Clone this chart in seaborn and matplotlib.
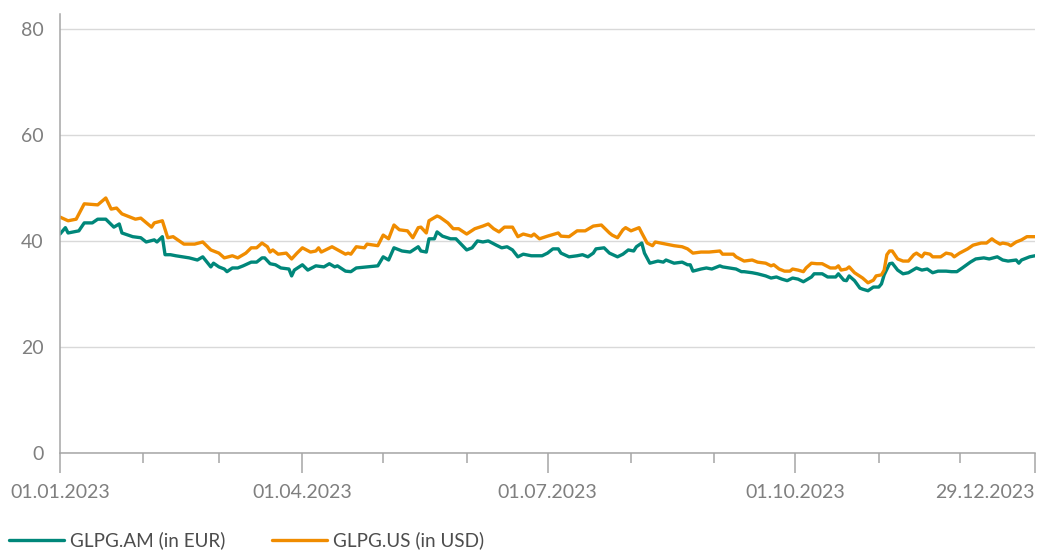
import pandas as pd
import matplotlib
matplotlib.use("Agg")
import matplotlib.pyplot as plt
import matplotlib.dates as mdates
import seaborn as sns

# share prices; days counted from 01.01.2023
usd_days = [0, 3, 6, 9, 14, 17, 19, 21, 23, 28, 30, 34, 35, 38, 40, 42, 46, 50, 53, 56,
            59, 61, 64, 66, 69, 71, 73, 75, 77, 78, 79, 81, 84, 86, 88, 90, 93, 95, 96, 97,
            101, 106, 107, 108, 110, 113, 114, 118, 120, 122, 124, 126, 129, 131, 133, 134, 136, 137, 140, 141,
            144, 146, 148, 151, 154, 157, 159, 161, 163, 165, 168, 170, 172, 175, 176, 178, 181, 185, 186, 189,
            192, 195, 198, 201, 204, 205, 207, 209, 210, 212, 215, 216, 218, 220, 221, 225, 228, 231, 233, 235,
            238, 241, 245, 246, 250, 251, 254, 257, 259, 262, 264, 265, 267, 269, 271, 272, 274, 276, 277, 279,
            281, 283, 286, 288, 289, 290, 292, 293, 295, 298, 300, 302, 303, 305, 306, 307, 308, 309, 311, 313,
            315, 317, 318, 320, 321, 323, 324, 327, 329, 331, 332, 334, 337, 339, 342, 344, 346, 347, 349, 350,
            352, 353, 355, 357, 359, 362]
usd_vals = [44.5, 43.8, 44.1, 47.0, 46.8, 48.1, 46.0, 46.2, 45.1, 44.1, 44.3, 42.6, 43.4, 43.8, 40.6, 40.8, 39.4, 39.4, 39.8, 38.3,
            37.7, 36.8, 37.2, 36.8, 37.7, 38.7, 38.7, 39.6, 38.9, 37.9, 38.3, 37.5, 37.7, 36.6, 37.7, 38.7, 37.9, 38.1, 38.7, 37.9,
            38.9, 37.5, 37.7, 37.5, 38.9, 38.7, 39.4, 39.1, 41.1, 40.4, 43.0, 42.1, 41.9, 40.6, 42.5, 42.6, 41.5, 43.8, 44.7, 44.5,
            43.4, 42.3, 42.3, 41.3, 42.3, 42.8, 43.2, 42.3, 41.7, 42.6, 42.6, 40.8, 41.3, 40.9, 41.3, 40.4, 40.9, 41.5, 40.9, 40.8,
            41.9, 41.9, 42.8, 43.0, 41.5, 41.1, 40.6, 42.1, 42.5, 41.9, 42.5, 41.5, 39.6, 39.1, 39.8, 39.4, 39.1, 38.9, 38.5, 37.7,
            37.9, 37.9, 38.1, 37.5, 37.5, 37.0, 36.2, 36.4, 36.0, 35.8, 35.3, 35.5, 34.7, 34.3, 34.3, 34.7, 34.5, 34.2, 34.9, 35.8,
            35.7, 35.7, 34.9, 34.9, 35.3, 34.5, 34.7, 35.1, 34.0, 33.0, 32.1, 32.6, 33.4, 33.6, 34.5, 37.4, 38.1, 38.1, 36.6, 36.2,
            36.2, 37.4, 37.7, 37.0, 37.7, 37.5, 37.0, 37.0, 37.7, 37.5, 37.0, 37.7, 38.5, 39.2, 39.6, 39.6, 40.4, 40.0, 39.4, 39.6,
            39.4, 39.1, 39.8, 40.2, 40.8, 40.8]

eur_days = [0, 2, 3, 7, 9, 12, 14, 17, 20, 22, 23, 27, 30, 32, 35, 36, 38, 39, 41, 43,
            48, 51, 53, 56, 57, 59, 61, 62, 64, 66, 68, 71, 73, 75, 76, 78, 80, 82, 85, 86,
            87, 90, 92, 95, 98, 100, 102, 103, 106, 108, 110, 114, 118, 120, 122, 124, 127, 130, 133, 134,
            136, 137, 139, 140, 142, 145, 147, 151, 153, 155, 157, 159, 162, 164, 166, 168, 170, 172, 175, 179,
            181, 183, 185, 186, 189, 192, 194, 196, 198, 199, 202, 204, 207, 209, 211, 213, 214, 216, 217, 219,
            222, 224, 225, 228, 231, 233, 234, 235, 238, 240, 242, 244, 245, 246, 251, 253, 254, 257, 259, 262,
            264, 266, 268, 270, 272, 274, 276, 279, 280, 283, 285, 288, 289, 291, 292, 293, 295, 297, 298, 300,
            302, 304, 305, 306, 308, 309, 311, 313, 315, 318, 320, 322, 324, 326, 329, 331, 333, 335, 338, 340,
            343, 345, 348, 350, 352, 355, 356, 357, 358, 360, 362]
eur_vals = [41.3, 42.5, 41.5, 41.9, 43.4, 43.4, 44.1, 44.1, 42.6, 43.2, 41.5, 40.8, 40.6, 39.8, 40.2, 39.8, 40.8, 37.4, 37.4, 37.2,
            36.8, 36.4, 37.0, 35.1, 35.8, 35.1, 34.7, 34.2, 34.9, 34.9, 35.3, 36.0, 36.0, 36.8, 36.8, 35.7, 35.5, 34.9, 34.7, 33.4,
            34.5, 35.5, 34.5, 35.3, 35.1, 35.7, 35.1, 35.3, 34.3, 34.2, 34.9, 35.1, 35.3, 37.0, 36.4, 38.7, 38.1, 37.9, 38.9, 38.1,
            37.9, 40.4, 40.4, 41.7, 40.9, 40.4, 40.4, 38.3, 38.7, 40.0, 39.8, 40.0, 39.2, 38.7, 38.9, 38.3, 37.0, 37.5, 37.2, 37.2,
            37.7, 38.5, 38.5, 37.7, 37.0, 37.2, 37.4, 37.0, 37.7, 38.5, 38.7, 37.7, 37.0, 37.5, 38.3, 38.1, 38.9, 39.6, 37.7, 35.8,
            36.2, 36.0, 36.4, 35.8, 36.0, 35.5, 35.5, 34.3, 34.7, 34.9, 34.7, 35.1, 35.3, 35.1, 34.7, 34.2, 34.2, 34.0, 33.8, 33.4,
            33.0, 33.2, 32.8, 32.5, 33.0, 32.8, 32.3, 33.2, 33.8, 33.8, 33.2, 33.2, 33.8, 32.6, 32.5, 33.4, 32.5, 31.1, 30.9, 30.6,
            31.3, 31.3, 31.9, 33.6, 35.7, 35.8, 34.5, 33.8, 34.0, 34.9, 34.5, 34.7, 34.0, 34.3, 34.3, 34.2, 34.2, 34.9, 36.0, 36.6,
            36.8, 36.6, 37.0, 36.4, 36.2, 36.4, 35.8, 36.4, 36.6, 37.0, 37.2]

series_names = ["GLPG.AM (in EUR)", "GLPG.US (in USD)"]
colors = ["#00877a", "#f08c00"]
y_ticks = [0, 20, 40, 60, 80]
major_ticks = ["2023-01-01", "2023-04-01", "2023-07-01", "2023-10-01", "2023-12-29"]

start = pd.Timestamp("2023-01-01")
df = pd.concat([
    pd.DataFrame({"date": start + pd.to_timedelta(eur_days, unit="D"), "price": eur_vals, "series": series_names[0]}),
    pd.DataFrame({"date": start + pd.to_timedelta(usd_days, unit="D"), "price": usd_vals, "series": series_names[1]}),
])

sns.set_theme(style="white")
plt.rcParams["font.family"] = ["Lato", "DejaVu Sans"]

fig = plt.figure(figsize=(10.4, 5.51), dpi=100)
ax = fig.add_axes([60 / 1040, 98 / 551, 975 / 1040, 439 / 551])

sns.lineplot(data=df, x="date", y="price", hue="series", palette=colors,
             linewidth=2.4, ax=ax, legend=False)

ax.set_xlim(pd.Timestamp(major_ticks[0]), pd.Timestamp(major_ticks[-1]))
ax.set_ylim(0, 82.8)
ax.set_yticks(y_ticks)
ax.yaxis.grid(True, color="#d9d9d9", linewidth=1)
ax.set_xlabel("")
ax.set_ylabel("")

ax.set_xticks([pd.Timestamp(t) for t in major_ticks])
ax.set_xticklabels([pd.Timestamp(t).strftime("%d.%m.%Y") for t in major_ticks])
ax.xaxis.set_minor_locator(mdates.MonthLocator())
ax.get_xticklabels()[-1].set_ha("right")

ax.tick_params(axis="x", which="both", bottom=True, direction="out")
ax.tick_params(axis="x", which="major", length=14.4, width=1.1, color="#a6a6a6",
               labelsize=14, labelcolor="#7f7f7f", pad=8)
ax.tick_params(axis="x", which="minor", length=7.2, width=1.1, color="#a6a6a6")
ax.tick_params(axis="y", left=False, length=0, labelsize=14, labelcolor="#7f7f7f", pad=12)

for side in ["top", "right"]:
    ax.spines[side].set_visible(False)
for side in ["left", "bottom"]:
    ax.spines[side].set_color("#a6a6a6")
    ax.spines[side].set_linewidth(1.1)

handles = [plt.Line2D([], [], color=c, linewidth=2.4) for c in colors]
leg = fig.legend(handles, series_names, loc="center left", bbox_to_anchor=(0.009, 0.019),
                 ncol=2, frameon=False, fontsize=13.6, handlelength=2.9, handletextpad=0.3,
                 columnspacing=2.5, borderpad=0, borderaxespad=0)
for t in leg.get_texts():
    t.set_color("#4d4d4d")

fig.savefig("out.png", dpi=100)
